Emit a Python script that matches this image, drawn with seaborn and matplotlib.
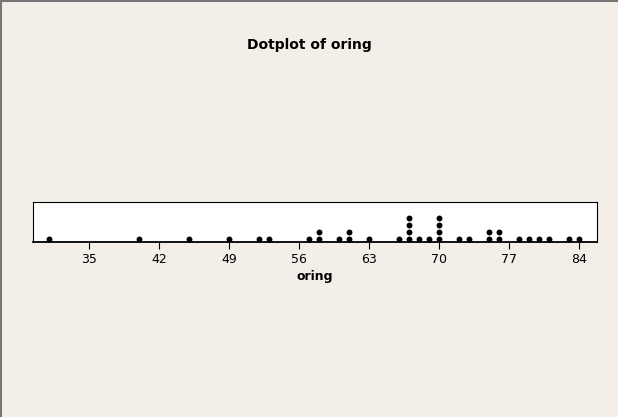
import numpy as np
import pandas as pd
import matplotlib
matplotlib.use("Agg")
import matplotlib.pyplot as plt
import seaborn as sns
from matplotlib.patches import Rectangle

# oring values read from the dotplot
oring = [31, 40, 45, 49, 52, 53, 57, 58, 58, 60, 61, 61, 63, 66,
         67, 67, 67, 67, 68, 69, 70, 70, 70, 70, 72, 73, 75, 75,
         76, 76, 78, 79, 80, 81, 83, 84]
tick_values = [35, 42, 49, 56, 63, 70, 77, 84]

df = pd.DataFrame({"oring": oring})
df["level"] = df.groupby("oring").cumcount()

sns.set_style("white")
plt.rcParams["font.family"] = ["DejaVu Sans"]
plt.rcParams["text.color"] = "black"
plt.rcParams["xtick.color"] = "black"
plt.rcParams["axes.labelcolor"] = "black"

bg = "#f3efe8"
fig = plt.figure(figsize=(6.18, 4.17), dpi=100, facecolor=bg)
# grey frame on the top and left edges of the graph window
fig.add_artist(plt.Line2D([0.001, 0.001], [0, 1], transform=fig.transFigure,
                          color="#777777", linewidth=1.5))
fig.add_artist(plt.Line2D([0, 1], [0.998, 0.998], transform=fig.transFigure,
                          color="#777777", linewidth=1.5))
ax = fig.add_axes([33 / 618, 175 / 417, 564 / 618, 40 / 417])
ax.set_facecolor("white")

sns.scatterplot(data=df, x="oring", y="level", color="black", s=18,
                edgecolor="black", linewidth=0, ax=ax, legend=False)

ax.set_xlim(29.4, 85.8)
ax.set_ylim(-0.43, 5.29)
ax.set_xticks(tick_values)
ax.set_xticklabels([str(v) for v in tick_values], fontsize=9)
ax.set_yticks([])
ax.set_ylabel("")
ax.set_xlabel("oring", fontsize=9, fontweight="bold", labelpad=3)
ax.tick_params(axis="x", direction="out", length=5, width=0.8, color="black",
               bottom=True, pad=3)
for sp in ax.spines.values():
    sp.set_visible(True)
    sp.set_color("black")
    sp.set_linewidth(0.8)
ax.spines["bottom"].set_linewidth(1.3)

fig.text(0.5, 1 - 45 / 417, "Dotplot of oring", ha="center", va="center",
         fontsize=10, fontweight="bold", color="black")

fig.savefig("out.png", dpi=100, facecolor=bg)
